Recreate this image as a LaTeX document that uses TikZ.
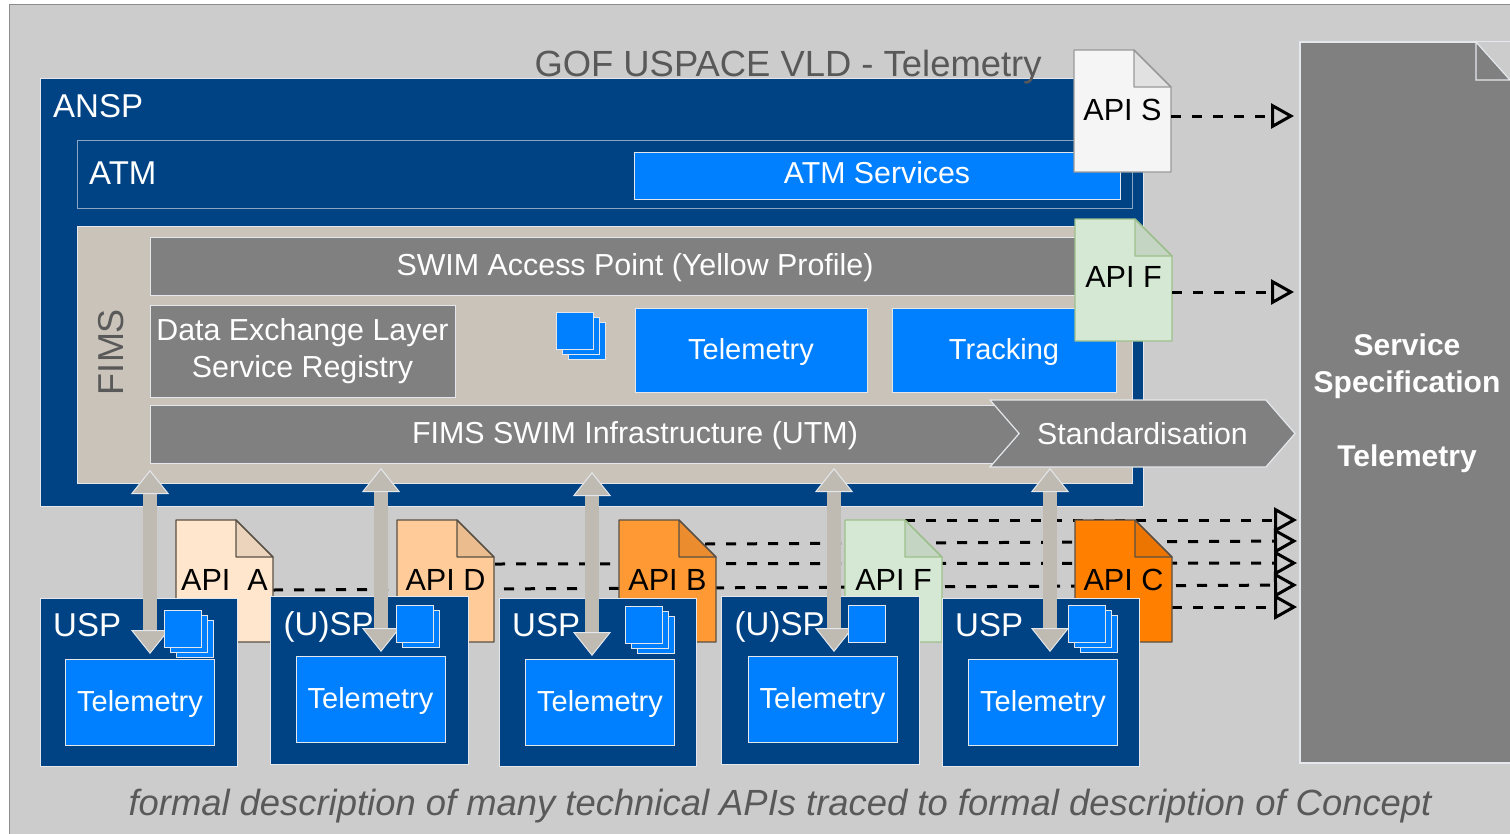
\documentclass[tikz,border=0pt]{standalone}
\usepackage{fontspec}
\setmainfont{Liberation Sans}
\usetikzlibrary{positioning,arrows.meta,shapes.symbols}

\definecolor{pagegrey}{HTML}{CCCCCC}
\definecolor{anspblue}{HTML}{004385}
\definecolor{brightblue}{HTML}{007FFF}
\definecolor{fimssand}{HTML}{CAC3BA}
\definecolor{midgrey}{HTML}{808080}
\definecolor{titlegrey}{HTML}{595959}
\definecolor{linksand}{HTML}{BFBAB2}
\definecolor{paleedge}{HTML}{E4E8EC}
\definecolor{docwhite}{HTML}{F5F5F5}
\definecolor{docwhiteedge}{HTML}{999999}
\definecolor{docgreen}{HTML}{D5E8D4}
\definecolor{docgreenedge}{HTML}{9DC08B}
\definecolor{docpeach}{HTML}{FFE6CC}
\definecolor{docorange}{HTML}{FFCC99}
\definecolor{docamber}{HTML}{FF9933}
\definecolor{docstrong}{HTML}{FF8000}
\definecolor{docedgedark}{HTML}{5A5045}

\newcommand{\sizedfont}[1]{\fontsize{#1}{#1}\selectfont}
\newcommand{\apidoc}[6]{%
	\node[docbox,#2] (#1) {};
	\draw[docedge,draw=#4,fill=#3] (#1.north west) -- ([xshift=-37pt]#1.north east) -- ([yshift=-37pt]#1.north east) -- (#1.south east) -- (#1.south west) -- cycle;
	\draw[docedge,draw=#4,fill=black,fill opacity=0.08] ([xshift=-37pt]#1.north east) -- ([yshift=-37pt]#1.north east) -- ([xshift=-37pt,yshift=-37pt]#1.north east) -- cycle;
	\node[doctext,yshift=#6] (#1text) at (#1) {#5};
}

\begin{document}
\begin{tikzpicture}[x=1pt,y=-1pt,
	box/.style={rectangle,inner sep=0pt,outer sep=0pt,line width=1pt,draw=paleedge},
	darknode/.style={box,fill=anspblue,minimum width=197.5pt,minimum height=168pt},
	bluenode/.style={box,fill=brightblue,text=white,font=\sizedfont{29},text depth=3pt},
	telenode/.style={bluenode,minimum width=149pt,minimum height=86pt},
	stacknode/.style={box,fill=brightblue,minimum size=37pt},
	greynode/.style={box,fill=midgrey,text=white,font=\sizedfont{30.4},align=center},
	paletext/.style={text=white,inner sep=0pt,font=\sizedfont{33}},
	docbox/.style={rectangle,inner sep=0pt,outer sep=0pt,minimum width=97pt,minimum height=122pt},
	docedge/.style={line width=1.2pt,line join=round},
	doctext/.style={inner sep=0pt,font=\sizedfont{30.6}},
	dashlink/.style={line width=3pt,dash pattern=on 10pt off 11pt,-{Triangle[open,length=23pt,width=25pt]}},
	apilink/.style={line width=14pt,draw=linksand,{Triangle[length=24pt,width=38pt,color=paleedge,fill=linksand,line width=1pt]}-{Triangle[length=24pt,width=38pt,color=paleedge,fill=linksand,line width=1pt]}}]

	\useasboundingbox (0,0) rectangle (1510,833);
	\node[rectangle,inner sep=0pt,outer sep=0pt,draw=black!45,fill=pagegrey,minimum width=1520pt,minimum height=840pt,anchor=north west] (page) at (9,4) {};

	\node[box,fill=anspblue,minimum width=1103pt,minimum height=428pt,anchor=north west] (ansp) at (40,78) {};
	\node[text=titlegrey,inner sep=0pt,font=\sizedfont{36.4}] (title) at (788,67) {GOF USPACE VLD - Telemetry};
	\node[paletext,below right=16pt and 13pt of ansp.north west] (ansplabel) {ANSP};

	\node[box,draw=paleedge!60!anspblue,fill=anspblue,minimum width=1055pt,minimum height=68pt,below right=62pt and 37pt of ansp.north west] (atm) {};
	\node[paletext,below right=22pt and 12pt of atm.north west] (atmlabel) {ATM};
	\node[bluenode,font=\sizedfont{30.3},text depth=5pt,minimum width=486pt,minimum height=47pt,below right=12pt and 557pt of atm.north west] (atmservices) {ATM Services};

	\node[box,fill=fimssand,minimum width=1055pt,minimum height=257pt,below=18pt of atm] (fims) {};
	\node[text=titlegrey,inner sep=0pt,rotate=90,font=\sizedfont{36}] (fimslabel) at (111,352) {FIMS};
	\node[greynode,text depth=3pt,minimum width=970pt,minimum height=58pt,below right=11pt and 73pt of fims.north west] (swim) {SWIM Access Point (Yellow Profile)};
	\node[greynode,minimum width=305pt,minimum height=92pt,below right=10pt and 0pt of swim.south west] (registry) {Data Exchange Layer\\[7pt]Service Registry};
	\node[stacknode] (fimsstack3) at (586.5,340.5) {};
	\node[stacknode] (fimsstack2) at ([shift={(-6,-5)}]fimsstack3) {};
	\node[stacknode] (fimsstack1) at ([shift={(-6,-5)}]fimsstack2) {};
	\node[bluenode,minimum width=232pt,minimum height=84pt,anchor=north west] (telemetry) at (635,308) {Telemetry};
	\node[bluenode,minimum width=224pt,minimum height=84pt,right=25pt of telemetry] (tracking) {Tracking};
	\node[greynode,text depth=3pt,minimum width=970pt,minimum height=58pt,below right=110pt and 0pt of swim.south west] (infra) {FIMS SWIM Infrastructure (UTM)};
	\node[signal,signal to=east,signal from=west,signal pointer angle=98,inner sep=0pt,outer sep=0pt,line width=1.2pt,draw=paleedge,fill=midgrey,text=white,minimum width=305pt,minimum height=67pt,font=\sizedfont{30.3}] (standard) at (1142.5,433.5) {Standardisation};

	\node[rectangle,inner sep=0pt,outer sep=0pt,draw=paleedge,line width=1.2pt,fill=midgrey,minimum width=240pt,minimum height=721pt,anchor=north west] (spec) at (1300,42) {};
	\fill[pagegrey] ([xshift=176pt]spec.north west) -- ([xshift=210pt,yshift=-38pt]spec.north west) |- cycle;
	\draw[line width=1.2pt,draw=paleedge,fill=midgrey] ([xshift=176pt]spec.north west) -- ([xshift=210pt,yshift=-38pt]spec.north west) -- ([xshift=176pt,yshift=-38pt]spec.north west) -- cycle;
	\node[text=white,align=center,inner sep=0pt,font=\bfseries\fontsize{30}{37}\selectfont] (spectext) at (1407,403) {Service\\Specification\\[37pt]Telemetry};

	\coordinate (starta) at (273,590);
	\coordinate (startd) at (495,564);
	\coordinate (startb) at (705,544);
	\coordinate (startf) at (905,520);
	\coordinate (startc) at (1172,607);
	\coordinate (enda) at (1297,585);
	\coordinate (endd) at (1297,563);
	\coordinate (endb) at (1297,541);
	\coordinate (endf) at (1297,520);
	\coordinate (endc) at (1297,607);
	\draw[dashlink] (starta) -- (enda);
	\draw[dashlink] (startd) -- (endd);
	\draw[dashlink] (startb) -- (endb);
	\draw[dashlink] (startf) -- (endf);
	\draw[dashlink] (startc) -- (endc);

	\apidoc{apis}{anchor=north west,at={(1074,50)}}{docwhite}{docwhiteedge}{API S}{1pt}
	\apidoc{apiftop}{anchor=north west,at={(1075,219)}}{docgreen}{docgreenedge}{API F}{3pt}
	\apidoc{apia}{anchor=north west,at={(176,520)}}{docpeach}{docedgedark}{API\ \ A}{1pt}
	\apidoc{apid}{anchor=north west,at={(397,520)}}{docorange}{docedgedark}{API D}{1pt}
	\apidoc{apib}{anchor=north west,at={(619,520)}}{docamber}{docedgedark}{API B}{1pt}
	\apidoc{apifbot}{anchor=north west,at={(845,520)}}{docgreen}{docgreenedge}{API F}{1pt}
	\apidoc{apic}{anchor=north west,at={(1075,520)}}{docstrong}{docedgedark}{API C}{1pt}

	\coordinate (ends) at (1294,116);
	\coordinate (endftop) at (1294,292);
	\draw[dashlink] (apis.east |- ends) -- (ends);
	\draw[dashlink] (apiftop.east |- endftop) -- (endftop);

	\node[darknode,anchor=north west] (usp1) at (40,598) {};
	\node[darknode,right=33pt of usp1,yshift=1.5pt] (usp2) {};
	\node[darknode,right=31pt of usp2,yshift=-1.5pt] (usp3) {};
	\node[darknode,right=25pt of usp3,yshift=1.5pt] (usp4) {};
	\node[darknode,right=23pt of usp4,yshift=-1.5pt] (usp5) {};

	\node[paletext,below right=15pt and 13pt of usp1.north west] (usp1label) {USP};
	\node[paletext,below right=15pt and 13pt of usp2.north west] (usp2label) {(U)SP};
	\node[paletext,below right=15pt and 13pt of usp3.north west] (usp3label) {USP};
	\node[paletext,below right=15pt and 13pt of usp4.north west] (usp4label) {(U)SP};
	\node[paletext,below right=15pt and 13pt of usp5.north west] (usp5label) {USP};

	\node[telenode,below right=61pt and 25.5pt of usp1.north west] (tele1) {Telemetry};
	\node[telenode,below right=60pt and 25.5pt of usp2.north west] (tele2) {Telemetry};
	\node[telenode,below right=61pt and 26.5pt of usp3.north west] (tele3) {Telemetry};
	\node[telenode,below right=60pt and 26.5pt of usp4.north west] (tele4) {Telemetry};
	\node[telenode,below right=61pt and 26.5pt of usp5.north west] (tele5) {Telemetry};

	\coordinate (up1) at (150,470);
	\coordinate (down1) at (150,654);
	\coordinate (up2) at (381,468);
	\coordinate (down2) at (381,652);
	\coordinate (up3) at (592,472);
	\coordinate (down3) at (592,656);
	\coordinate (up4) at (834,468);
	\coordinate (down4) at (834,652);
	\coordinate (up5) at (1050,468);
	\coordinate (down5) at (1050,652);
	\draw[apilink] (up1) -- (down1);
	\draw[apilink] (up2) -- (down2);
	\draw[apilink] (up3) -- (down3);
	\draw[apilink] (up4) -- (down4);
	\draw[apilink] (up5) -- (down5);

	\node[stacknode] (usp1stack3) at (194.5,638.5) {};
	\node[stacknode] (usp1stack2) at ([shift={(-6,-5)}]usp1stack3) {};
	\node[stacknode] (usp1stack1) at ([shift={(-6,-5)}]usp1stack2) {};
	\node[stacknode] (usp2stack2) at (420.5,628.5) {};
	\node[stacknode] (usp2stack1) at ([shift={(-6,-5)}]usp2stack2) {};
	\node[stacknode] (usp3stack3) at (655.5,634.5) {};
	\node[stacknode] (usp3stack2) at ([shift={(-6,-5)}]usp3stack3) {};
	\node[stacknode] (usp3stack1) at ([shift={(-6,-5)}]usp3stack2) {};
	\node[stacknode] (usp4stack1) at (866.5,623.5) {};
	\node[stacknode] (usp5stack3) at (1098.5,633.5) {};
	\node[stacknode] (usp5stack2) at ([shift={(-6,-5)}]usp5stack3) {};
	\node[stacknode] (usp5stack1) at ([shift={(-6,-5)}]usp5stack2) {};

	\node[text=titlegrey,inner sep=0pt,font=\itshape\sizedfont{36.4}] (concept) at (780,806) {formal description of many technical APIs traced to formal description of Concept};
\end{tikzpicture}
\end{document}
